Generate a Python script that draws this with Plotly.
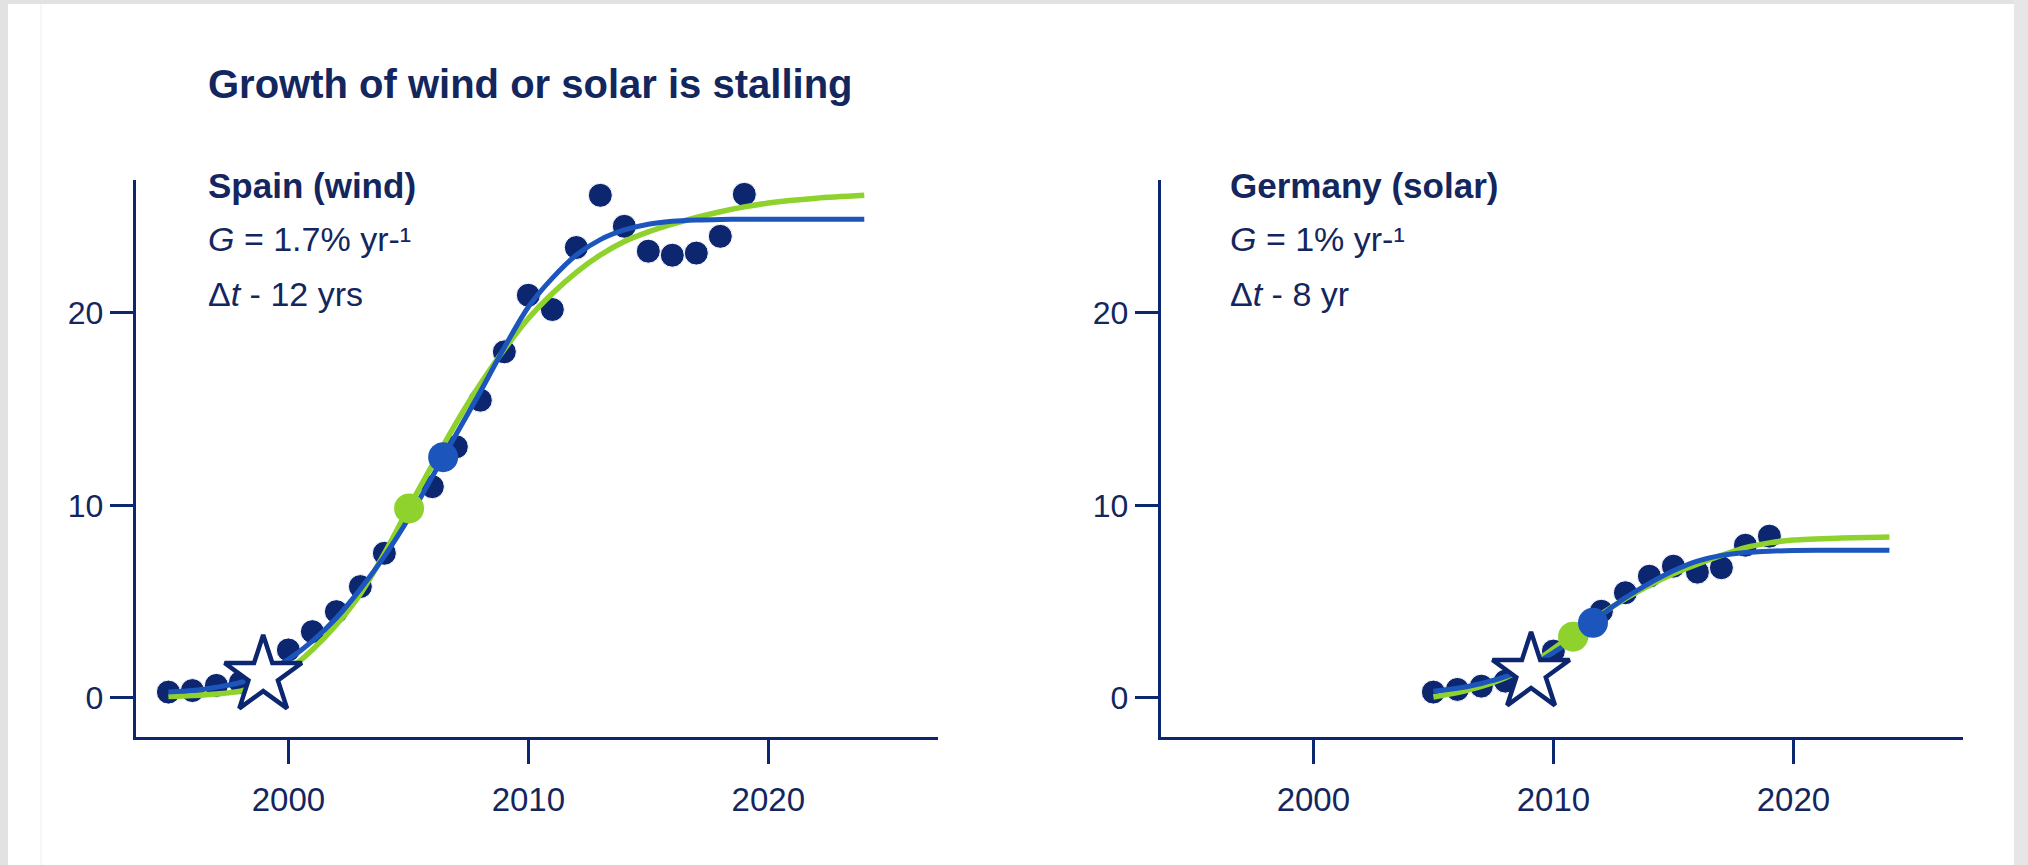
import plotly.graph_objects as go

# ---------------- data ----------------
spain_years = [1995, 1996, 1997, 1998, 1999, 2000, 2001, 2002, 2003, 2004, 2005, 2006,
               2007, 2008, 2009, 2010, 2011, 2012, 2013, 2014, 2015, 2016, 2017, 2018, 2019]
spain_vals = [0.3, 0.38, 0.65, 0.8, 1.3, 2.49, 3.44, 4.48, 5.78, 7.51, 9.8, 10.97,
              13.04, 15.46, 17.97, 20.91, 20.17, 23.39, 26.1, 24.49, 23.2, 22.99, 23.1, 23.97, 26.15]

spain_fit_years = [1995, 1996, 1997, 1998, 1999, 2000, 2001, 2002, 2003, 2004, 2005, 2006, 2007,
                   2008, 2009, 2010, 2011, 2012, 2013, 2014, 2015, 2016, 2017, 2018, 2019, 2020, 2022, 2024]
spain_blue_fit = [0.3, 0.38, 0.55, 0.8, 1.3, 2.0, 2.95, 4.15, 5.65, 7.35, 9.3, 11.5, 13.7,
                  15.9, 18.2, 20.3, 21.8, 23.0, 23.8, 24.3, 24.6, 24.75, 24.82, 24.85, 24.86, 24.86, 24.86, 24.86]
spain_green_fit = [0.07, 0.12, 0.2, 0.35, 0.75, 1.45, 2.5, 3.8, 5.4, 7.5, 9.84, 12.1, 14.3,
                   16.3, 18.1, 19.7, 21.0, 22.1, 23.0, 23.7, 24.2, 24.6, 24.95, 25.25, 25.5, 25.7, 25.95, 26.1]

spain_star = (1998.95, 1.16)
spain_green_pt = (2005.03, 9.84)
spain_blue_pt = (2006.45, 12.5)

ger_years = [2005, 2006, 2007, 2008, 2009, 2010, 2011, 2012, 2013, 2014, 2015, 2016, 2017, 2018, 2019]
ger_vals = [0.3, 0.44, 0.61, 0.87, 1.4, 2.43, 3.3, 4.5, 5.46, 6.32, 6.84, 6.53, 6.76, 7.93, 8.40]

ger_fit_years = [2005, 2006, 2007, 2008, 2009, 2010, 2011, 2012, 2013, 2014, 2015, 2016,
                 2017, 2018, 2019, 2020, 2022, 2024]
ger_blue_fit = [0.35, 0.5, 0.75, 1.1, 1.6, 2.35, 3.2, 4.3, 5.2, 5.95, 6.6, 7.1,
                7.4, 7.55, 7.62, 7.65, 7.67, 7.67]
ger_green_fit = [0.05, 0.28, 0.6, 1.05, 1.7, 2.55, 3.45, 4.35, 5.15, 5.85, 6.45, 6.95,
                 7.4, 7.8, 8.05, 8.2, 8.3, 8.35]

ger_star = (2009.07, 1.32)
ger_green_pt = (2010.82, 3.18)
ger_blue_pt = (2011.65, 3.9)

x_ticks = [2000, 2010, 2020]
y_ticks = [0, 10, 20]

title_text = "Growth of wind or solar is stalling"
spain_lines = ["<b>Spain (wind)</b>", "<i>G</i> = 1.7% yr-¹", "Δ<i>t</i> - 12 yrs"]
ger_lines = ["<b>Germany (solar)</b>", "<i>G</i> = 1% yr-¹", "Δ<i>t</i> - 8 yr"]

# ---------------- styles ----------------
NAVY = "#0c2670"
TEXT = "#13265e"
BLUE = "#1c56bd"
GREEN = "#8fd22e"
FONT = "Liberation Sans, Arial, sans-serif"

fig = go.Figure()


def add_panel(xa, ya, years, vals, fy, fblue, fgreen, star, gpt, bpt):
    fig.add_trace(go.Scatter(x=years, y=vals, mode="markers", xaxis=xa, yaxis=ya,
                             marker=dict(size=24, color=NAVY, line=dict(color="white", width=1)),
                             showlegend=False, hoverinfo="skip"))
    fig.add_trace(go.Scatter(x=fy, y=fgreen, mode="lines", xaxis=xa, yaxis=ya,
                             line=dict(color=GREEN, width=5.5, shape="spline", smoothing=0.8),
                             showlegend=False, hoverinfo="skip"))
    fig.add_trace(go.Scatter(x=fy, y=fblue, mode="lines", xaxis=xa, yaxis=ya,
                             line=dict(color=BLUE, width=5, shape="spline", smoothing=0.8),
                             showlegend=False, hoverinfo="skip"))
    fig.add_trace(go.Scatter(x=[gpt[0]], y=[gpt[1]], mode="markers", xaxis=xa, yaxis=ya,
                             marker=dict(size=30, color=GREEN), showlegend=False, hoverinfo="skip"))
    fig.add_trace(go.Scatter(x=[bpt[0]], y=[bpt[1]], mode="markers", xaxis=xa, yaxis=ya,
                             marker=dict(size=30, color=BLUE), showlegend=False, hoverinfo="skip"))
    fig.add_trace(go.Scatter(x=[star[0]], y=[star[1]], mode="markers", xaxis=xa, yaxis=ya,
                             marker=dict(symbol="star", size=58, color="white",
                                         line=dict(color=NAVY, width=4.5)),
                             showlegend=False, hoverinfo="skip"))


add_panel("x", "y", spain_years, spain_vals, spain_fit_years, spain_blue_fit, spain_green_fit,
          spain_star, spain_green_pt, spain_blue_pt)
add_panel("x2", "y2", ger_years, ger_vals, ger_fit_years, ger_blue_fit, ger_green_fit,
          ger_star, ger_green_pt, ger_blue_pt)

axis_common = dict(showgrid=False, zeroline=False, showline=True, linecolor=NAVY, linewidth=2.5,
                   ticks="outside", ticklen=24, tickwidth=2.5, tickcolor=NAVY)
xfont = dict(family=FONT, size=33, color=TEXT)
yfont = dict(family=FONT, size=32, color=TEXT)

X_RANGE = [1993.67, 2027.07]
Y_RANGE = [-2.03, 26.9]
Y_DOMAIN = [0.148, 0.792]

fig.update_layout(
    width=2028, height=865,
    margin=dict(l=0, r=0, t=0, b=0),
    paper_bgcolor="white", plot_bgcolor="white",
    xaxis=dict(domain=[0.0673, 0.4625], range=X_RANGE, tickvals=x_ticks, anchor="y",
               tickfont=xfont, ticklabelstandoff=8, **axis_common),
    yaxis=dict(domain=Y_DOMAIN, range=Y_RANGE, tickvals=y_ticks, anchor="x",
               tickfont=yfont, **axis_common),
    xaxis2=dict(domain=[0.5727, 0.968], range=X_RANGE, tickvals=x_ticks, anchor="y2",
                tickfont=xfont, ticklabelstandoff=8, **axis_common),
    yaxis2=dict(domain=Y_DOMAIN, range=Y_RANGE, tickvals=y_ticks, anchor="x2",
                tickfont=yfont, **axis_common),
)

annotations = [dict(text="<b>" + title_text + "</b>", x=0.1015, y=0.903, xref="paper", yref="paper",
                    xanchor="left", yanchor="middle", showarrow=False,
                    font=dict(family=FONT, size=40, color=TEXT))]
line_y = [0.786, 0.724, 0.660]
line_size = [35, 34, 34]
for lx, lines in [(0.1015, spain_lines), (0.6055, ger_lines)]:
    for ly, fs, t in zip(line_y, line_size, lines):
        annotations.append(dict(text=t, x=lx, y=ly, xref="paper", yref="paper",
                                xanchor="left", yanchor="middle", showarrow=False,
                                font=dict(family=FONT, size=fs, color=TEXT)))
fig.update_layout(annotations=annotations)

# light grey frame of the page
shapes = [
    dict(type="rect", xref="paper", yref="paper", x0=0, x1=8 / 2028, y0=0, y1=1,
         fillcolor="#e2e2e2", line=dict(width=0), layer="below"),
    dict(type="rect", xref="paper", yref="paper", x0=0, x1=1, y0=1 - 4 / 865, y1=1,
         fillcolor="#e2e2e2", line=dict(width=0), layer="below"),
    dict(type="rect", xref="paper", yref="paper", x0=2014 / 2028, x1=1, y0=0, y1=1,
         fillcolor="#e6e6e6", line=dict(width=0), layer="below"),
    dict(type="line", xref="paper", yref="paper", x0=41 / 2028, x1=41 / 2028, y0=0, y1=1 - 4 / 865,
         line=dict(color="#efefef", width=1), layer="below"),
]
fig.update_layout(shapes=shapes)

fig.write_html("out.html")
